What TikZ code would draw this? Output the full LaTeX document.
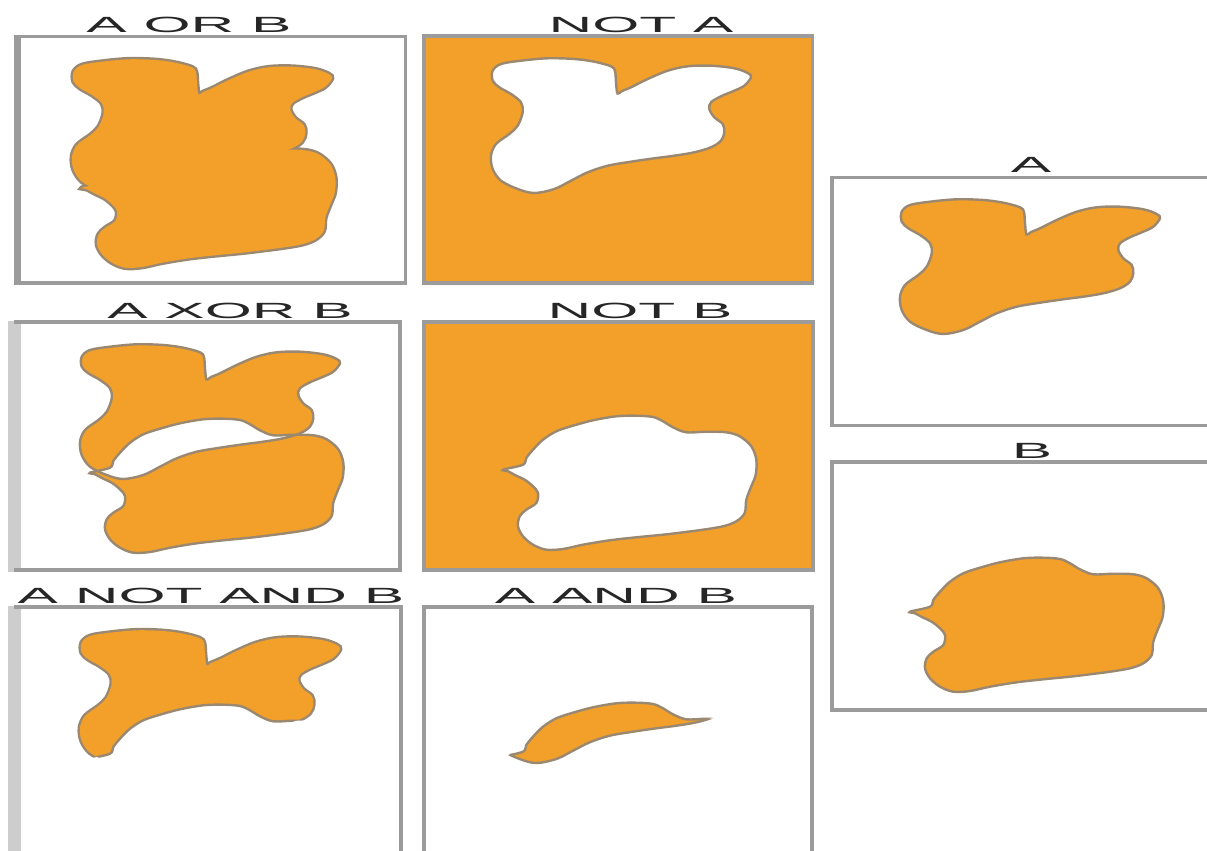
\documentclass[tikz,border=0pt]{standalone}
\usepackage{fontspec}
\setmainfont{Liberation Sans}
\definecolor{orng}{HTML}{F3A02A}
\definecolor{edgec}{HTML}{9A8870}
\definecolor{boxc}{HTML}{9B9B9B}
\definecolor{lboxc}{HTML}{CDCDCD}
\definecolor{txtc}{HTML}{262626}
\def\shapeA{plot[smooth cycle,tension=0.55] coordinates{(69.7,33.7)(78,27)(98,23.7)(124.7,21.3)(151.3,22)(171.3,24.7)(188,29.3)(192,34)(193,45.3)(194.5,56.5)(199,54)(208,50.3)(224.7,42)(244.7,33.7)(264.7,29.3)(288,28.7)(311.3,31.3)(324.7,36)(328,40.3)(321.3,48.7)(311.3,53.7)(298,59.3)(288,65.3)(286.3,72)(291.3,80.3)(299.7,87)(301.3,95.3)(298,103.7)(288,110.3)(271.3,115.3)(251.3,118.7)(231.3,121.3)(208,124.7)(184.7,128.7)(164.7,135.3)(148,143.7)(131.3,152)(111.3,156)(94.7,152)(78,143.7)(69.7,132)(68,118.7)(73,107)(86.3,97)(94.7,88.7)(99.7,75.3)(98,65.3)(88,57)(76.3,50.3)(69.7,43.7)}}
\def\shapeB{plot[smooth cycle,tension=0.55] coordinates{(78,149.7)(98,144.7)(101.3,138)(108,129.7)(118,119.7)(131.3,111.3)(148,105.7)(168,100.3)(191.3,96.3)(211.3,95.7)(228,97)(238,101.3)(248,107.3)(261.3,112.3)(281.3,111.7)(301.3,112.3)(314.7,116.3)(326.3,126.3)(331.3,139.7)(330.7,154.7)(326.3,166.3)(321.3,179.7)(319.7,193)(311.3,201.3)(298,206.3)(278,209.7)(258,212.3)(238,214.7)(211.3,217.3)(184.7,220.3)(158,224.7)(138,229)(121.3,229.7)(108,224.7)(98,216.3)(93,206.3)(94.7,196.3)(101.3,189.7)(111.3,183)(113,173)(108,166.3)(99.7,159.7)(91.3,155.7)(83,151.3)}}
\tikzset{
  panelbox/.style={draw=boxc, line width=3.5pt},
  blobedge/.style={draw=edgec, line width=2.4pt},
  thickedge/.style={draw=edgec, line width=4.8pt},
  title/.style={font=\fontsize{22}{22}\selectfont, text=txtc, xscale=2.75, anchor=base, inner sep=0pt},
}
\begin{document}
\begin{tikzpicture}[x=1pt,y=-1pt]
\useasboundingbox (0,0) rectangle (1207,851);
\fill[white] (0,0) rectangle (1207,851);

% ---------- A OR B ----------
\draw[panelbox] (17,36.5) rectangle (405.5,283);
\draw[boxc, line width=7pt] (17.5,35) -- (17.5,284.5);
\begin{scope}[shift={(4,38)}]
  \draw[thickedge] \shapeA;
  \draw[thickedge] \shapeB;
  \fill[orng] \shapeA;
  \fill[orng] \shapeB;
\end{scope}

% ---------- NOT A ----------
\fill[orng] (424,36) rectangle (812.5,283);
\draw[panelbox] (424,36) rectangle (812.5,283);
\begin{scope}[shift={(423,37)}]
  \fill[white] \shapeA;
  \draw[blobedge] \shapeA;
\end{scope}

% ---------- A XOR B ----------
\fill[lboxc] (8,320.5) rectangle (21,571.5);
\draw[panelbox] (14,322) -- (400,322) -- (400,570) -- (14,570);
\begin{scope}[shift={(12,323)}]
  \fill[orng, even odd rule] \shapeA \shapeB;
  \draw[blobedge] \shapeA;
  \draw[blobedge] \shapeB;
\end{scope}

% ---------- NOT B ----------
\fill[orng] (424,322) rectangle (813,570);
\draw[panelbox] (424,322) rectangle (813,570);
\begin{scope}[shift={(425,320)}]
  \fill[white] \shapeB;
  \draw[blobedge] \shapeB;
\end{scope}

% ---------- A NOT AND B ----------
\fill[lboxc] (8,605.5) rectangle (21,860);
\draw[panelbox] (14,607) -- (401,607) -- (401,860);
\begin{scope}[shift={(12,609)}]
  \draw[thickedge] \shapeA;
  \fill[orng] \shapeA;
  \fill[white] \shapeB;
  \begin{scope}
    \clip \shapeA;
    \draw[blobedge] \shapeB;
  \end{scope}
\end{scope}

% ---------- A AND B ----------
\draw[panelbox] (424,860) -- (424,607) -- (812,607) -- (812,860);
\begin{scope}[shift={(425,607)}]
  \begin{scope}
    \clip \shapeA;
    \fill[orng] \shapeB;
    \draw[blobedge] \shapeB;
  \end{scope}
  \begin{scope}
    \clip \shapeB;
    \draw[blobedge] \shapeA;
  \end{scope}
\end{scope}

% ---------- A ----------
\draw[panelbox] (1212,177.5) -- (832,177.5) -- (832,425.5) -- (1212,425.5);
\begin{scope}[shift={(832,178)}]
  \fill[orng] \shapeA;
  \draw[blobedge] \shapeA;
\end{scope}

% ---------- B ----------
\draw[panelbox] (1212,462) -- (832,462) -- (832,710) -- (1212,710);
\begin{scope}[shift={(832,462)}]
  \fill[orng] \shapeB;
  \draw[blobedge] \shapeB;
\end{scope}

% ---------- titles ----------
\node[title] (tOR) at (189,33) {A OR B};
\node[title] (tNA) at (641,33) {NOT A};
\node[title] (tXOR) at (230,318) {A XOR B};
\node[title] (tNB) at (640,318) {NOT B};
\node[title] (tANB) at (211,603) {A NOT AND B};
\node[title] (tAND) at (616,603) {A AND B};
\node[title] (tA) at (1031,172) {A};
\node[title] (tB) at (1032,458) {B};
\end{tikzpicture}
\end{document}
